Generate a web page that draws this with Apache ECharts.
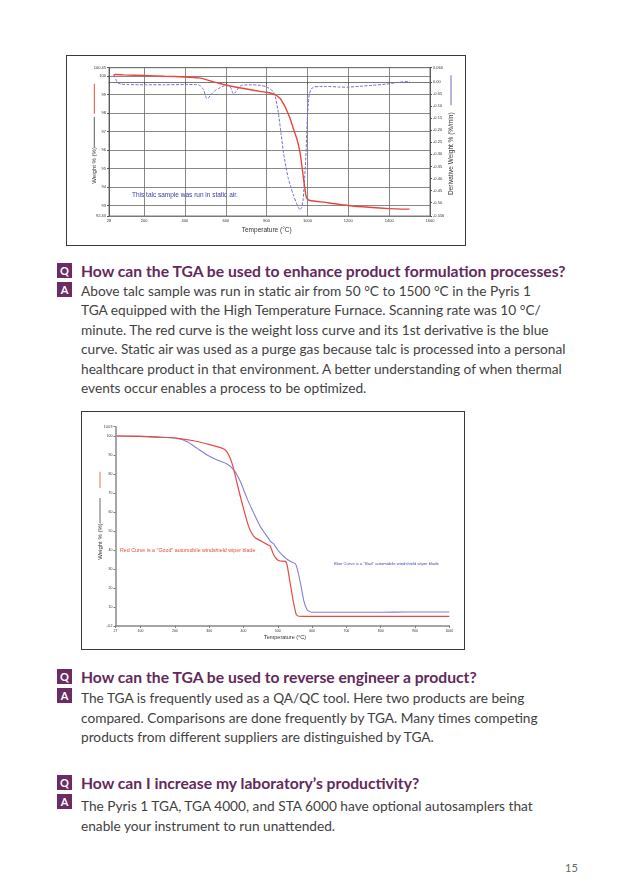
<!DOCTYPE html>
<html><head><meta charset="utf-8">
<script src="https://cdn.jsdelivr.net/npm/echarts@6/dist/echarts.min.js"></script>
<style>
body{margin:0;background:#fff;width:638px;height:896px;position:relative;overflow:hidden;font-family:Lato,"Open Sans",sans-serif;}
.frame{position:absolute;border:1px solid #3a3a3a;box-sizing:border-box;background:#fff;}
.chart{position:absolute;left:0;top:0;right:0;bottom:0;}
.box{position:absolute;left:57px;width:15px;height:15px;background:#6b2c64;color:#fff;font:bold 11px/15px Lato,sans-serif;text-align:center;}
.q{position:absolute;left:81px;color:#622a5c;font:bold 15.7px/18px Lato,sans-serif;white-space:nowrap;}
.a{position:absolute;left:81px;color:#3f3f3f;font:13.7px/19.5px Lato,sans-serif;white-space:nowrap;}
.pg{position:absolute;left:565px;top:861px;color:#666;font:11px/14px Lato,sans-serif;}
</style></head><body>

<div class="frame" style="left:66px;top:55px;width:400px;height:191px;"><div id="c1" class="chart"></div></div>

<div class="box" style="top:263px;">Q</div>
<div class="q" style="top:262px;">How can the TGA be used to enhance product formulation processes?</div>
<div class="box" style="top:282px;">A</div>
<div class="a" style="top:280.75px;">Above talc sample was run in static air from 50 °C to 1500 °C in the Pyris 1<br>TGA equipped with the High Temperature Furnace. Scanning rate was 10 °C/<br>minute. The red curve is the weight loss curve and its 1st derivative is the blue<br>curve. Static air was used as a purge gas because talc is processed into a personal<br>healthcare product in that environment. A better understanding of when thermal<br>events occur enables a process to be optimized.</div>

<div class="frame" style="left:81px;top:411px;width:384px;height:239px;"><div id="c2" class="chart"></div></div>

<div class="box" style="top:669px;">Q</div>
<div class="q" style="top:668px;">How can the TGA be used to reverse engineer a product?</div>
<div class="box" style="top:688px;">A</div>
<div class="a" style="top:688px;">The TGA is frequently used as a QA/QC tool. Here two products are being<br>compared. Comparisons are done frequently by TGA. Many times competing<br>products from different suppliers are distinguished by TGA.</div>

<div class="box" style="top:775px;">Q</div>
<div class="q" style="top:774px;">How can I increase my laboratory’s productivity?</div>
<div class="box" style="top:794px;">A</div>
<div class="a" style="top:796px;">The Pyris 1 TGA, TGA 4000, and STA 6000 have optional autosamplers that<br>enable your instrument to run unattended.</div>

<div class="pg">15</div>

<script>
// ---------- Chart 1: talc TGA (weight %) and derivative ----------
const talcTempTicks = [28, 200, 400, 600, 800, 1000, 1200, 1400, 1600];
const talcWeightTicks = [92.43, 93, 94, 95, 96, 97, 98, 99, 100, 100.45];
const talcDerivTicks = [-0.556, -0.5, -0.45, -0.4, -0.35, -0.3, -0.25, -0.2, -0.15, -0.1, -0.05, 0, 0.06];

const talcWeight = [
  [50,100.04],[60,100.08],[100,100.06],[200,100.03],[300,99.99],[400,99.95],[470,99.9],
  [500,99.82],[540,99.68],[580,99.57],[620,99.46],[694,99.31],[760,99.18],[800,99.12],
  [835,99.02],[865,98.8],[885,98.45],[898,98.15],[915,97.7],[931,97.15],[948,96.6],
  [963,95.9],[972,95.2],[980,94.5],[990,93.7],[996,93.4],[1005,93.3],[1012,93.27],
  [1100,93.15],[1200,93.0],[1300,92.9],[1400,92.83],[1500,92.8]
];
const talcDeriv = [
  [50,0.03],[55,0.025],[62,0.01],[70,-0.002],[85,-0.008],[120,-0.01],[200,-0.011],
  [300,-0.011],[400,-0.01],[457,-0.01],[475,-0.015],[490,-0.03],[500,-0.055],[506,-0.068],
  [515,-0.065],[530,-0.05],[548,-0.035],[563,-0.027],[590,-0.016],[612,-0.013],[625,-0.025],
  [637,-0.048],[650,-0.04],[665,-0.02],[678,-0.013],[720,-0.011],[767,-0.013],[800,-0.02],
  [833,-0.04],[845,-0.07],[857,-0.125],[870,-0.21],[882,-0.29],[894,-0.35],[906,-0.4],
  [920,-0.44],[931,-0.47],[945,-0.5],[955,-0.52],[963,-0.53],[972,-0.52],[979,-0.486],
  [986,-0.4],[993,-0.29],[999,-0.153],[1004,-0.09],[1009,-0.049],[1018,-0.03],[1028,-0.021],
  [1060,-0.018],[1094,-0.018],[1150,-0.02],[1192,-0.021],[1257,-0.017],[1320,-0.013],
  [1388,-0.008],[1453,0.0],[1502,0.004]
];

// ---------- Chart 2: wiper blades ----------
const wiperTempTicks = [27, 100, 200, 300, 400, 500, 600, 700, 800, 900, 1000];
const wiperWeightTicks = [-0.2, 10, 20, 30, 40, 50, 60, 70, 80, 90, 100, 104.9];

const goodBlade = [
  [30,100],[100,99.8],[150,99.4],[207,98.8],[255,97.5],[294,95.8],[333,93.9],[347,92.6],
  [357,90.0],[365,86.5],[372,82.2],[386,71.7],[401,61.2],[415,52.4],[425,48.5],[435,46.3],
  [454,44.5],[470,42.8],[478,42.0],[488,37.5],[498,35.0],[507,34.2],[522,34.0],[527,32.3],
  [536,22.7],[546,12.2],[554,6.0],[561,5.1],[600,5.0],[800,5.0],[1000,5.0]
];
const badBlade = [
  [30,100],[100,99.8],[150,99.4],[207,98.8],[236,97.0],[265,93.5],[294,90.0],[323,87.4],
  [352,85.3],[372,82.2],[391,76.0],[410,67.3],[430,59.4],[449,52.4],[469,47.1],[480,44.3],
  [488,43.2],[498,40.5],[507,38.4],[522,35.8],[536,34.0],[551,32.8],[556,30.6],[566,22.7],
  [575,13.9],[585,8.7],[595,7.4],[600,7.2],[800,7.2],[880,7.3],[1000,7.3]
];

const tickFont = {fontSize:4, color:'#333', fontFamily:'Liberation Sans'};
const plain = v => String(v);

const c1 = echarts.init(document.getElementById('c1'), null, {renderer:'canvas'});
c1.setOption({
  animation:false,
  grid:{left:42, right:35, top:11.7, bottom:29, show:true, borderColor:'#555', borderWidth:0.8},
  xAxis:{type:'value', min:28, max:1600, splitNumber:8,
    axisLine:{lineStyle:{color:'#555', width:0.8}},
    axisTick:{customValues:talcTempTicks, length:2, lineStyle:{color:'#555'}},
    axisLabel:Object.assign({customValues:talcTempTicks, margin:3, formatter:plain}, tickFont),
    splitLine:{show:true, lineStyle:{color:'#6a6a6a', width:0.8}}},
  yAxis:[
    {type:'value', min:92.43, max:100.45, splitNumber:8, position:'left',
     axisLine:{show:true, lineStyle:{color:'#555', width:0.8}},
     axisTick:{show:true, customValues:talcWeightTicks, length:2, lineStyle:{color:'#555'}},
     axisLabel:Object.assign({customValues:talcWeightTicks, margin:3, formatter:plain}, tickFont),
     splitLine:{show:true, lineStyle:{color:'#6a6a6a', width:0.8}}},
    {type:'value', min:-0.556, max:0.06, position:'right',
     axisLine:{show:true, lineStyle:{color:'#555', width:0.8}},
     axisTick:{show:true, customValues:talcDerivTicks, length:2, lineStyle:{color:'#555'}},
     axisLabel:Object.assign({customValues:talcDerivTicks, margin:3,
        formatter:v => (Math.abs(v*20 - Math.round(v*20)) < 1e-6 ? v.toFixed(2) : v.toFixed(3))}, tickFont),
     splitLine:{show:false}}
  ],
  series:[
    {type:'line', data:talcWeight, yAxisIndex:0, showSymbol:false, smooth:0.2, z:3,
     lineStyle:{color:'#e8463c', width:1.4}},
    {type:'line', data:talcDeriv, yAxisIndex:1, showSymbol:false, smooth:0.2, z:2,
     lineStyle:{color:'#6f6fd8', width:1, type:[3,1.5]}}
  ],
  graphic:[
    {type:'line', shape:{x1:27.3, y1:27.7, x2:27.3, y2:57.7}, style:{stroke:'#e8463c', lineWidth:1}},
    {type:'line', shape:{x1:27.3, y1:61, x2:27.3, y2:91}, style:{stroke:'#333', lineWidth:0.8}},
    {type:'text', x:27.3, y:109.4, rotation:Math.PI/2,
     style:{text:'Weight % (%)', fontSize:6, fill:'#333', align:'center', verticalAlign:'middle', fontFamily:'Liberation Sans'}},
    {type:'line', shape:{x1:384, y1:19.3, x2:384, y2:49.3}, style:{stroke:'#4a4aa8', lineWidth:0.8}},
    {type:'text', x:384, y:97.7, rotation:Math.PI/2,
     style:{text:'Derivative Weight % (%/min)', fontSize:6.5, fill:'#333', align:'center', verticalAlign:'middle', fontFamily:'Liberation Sans'}},
    {type:'text', x:199.7, y:174,
     style:{text:'Temperature (°C)', fontSize:6.5, fill:'#333', align:'center', verticalAlign:'middle', fontFamily:'Liberation Sans'}},
    {type:'text', x:65, y:139,
     style:{text:'This talc sample was run in static air.', fontSize:6.5, fill:'#3a3aa8', align:'left', verticalAlign:'middle', fontFamily:'Liberation Sans'}}
  ]
});

const c2 = echarts.init(document.getElementById('c2'), null, {renderer:'canvas'});
c2.setOption({
  animation:false,
  grid:{left:33.5, right:14.7, top:14.7, bottom:22.7},
  xAxis:{type:'value', min:27, max:1000, splitNumber:10,
    axisLine:{lineStyle:{color:'#888', width:1.5}},
    axisTick:{customValues:wiperTempTicks, length:2, lineStyle:{color:'#777'}},
    axisLabel:Object.assign({customValues:wiperTempTicks, margin:3, formatter:plain}, tickFont, {fontSize:3.5}),
    splitLine:{show:false}},
  yAxis:{type:'value', min:-0.2, max:104.9, splitNumber:10,
    axisLine:{show:true, lineStyle:{color:'#888', width:1.5}},
    axisTick:{show:true, customValues:wiperWeightTicks, length:2, lineStyle:{color:'#777'}},
    axisLabel:Object.assign({customValues:wiperWeightTicks, margin:3, formatter:plain}, tickFont, {fontSize:3.5}),
    splitLine:{show:false}},
  series:[
    {type:'line', data:badBlade, showSymbol:false, smooth:0.2, z:2,
     lineStyle:{color:'#8080d8', width:1.1}},
    {type:'line', data:goodBlade, showSymbol:false, smooth:0.2, z:3,
     lineStyle:{color:'#e84a3c', width:1.2}}
  ],
  graphic:[
    {type:'line', shape:{x1:18, y1:59.7, x2:18, y2:76}, style:{stroke:'#f07060', lineWidth:1}},
    {type:'line', shape:{x1:18, y1:86, x2:18, y2:111}, style:{stroke:'#444', lineWidth:0.8}},
    {type:'text', x:18, y:129.5, rotation:Math.PI/2,
     style:{text:'Weight % (%)', fontSize:6, fill:'#333', align:'center', verticalAlign:'middle', fontFamily:'Liberation Sans'}},
    {type:'text', x:203, y:225,
     style:{text:'Temperature (°C)', fontSize:5.5, fill:'#333', align:'center', verticalAlign:'middle', fontFamily:'Liberation Sans'}},
    {type:'text', x:38, y:138.7,
     style:{text:'Red Curve is a "Good" automobile windshield wiper blade', fontSize:5.3, fill:'#e84a3c', align:'left', verticalAlign:'middle', fontFamily:'Liberation Sans'}},
    {type:'text', x:252, y:152,
     style:{text:'Blue Curve is a "Bad" automobile windshield wiper blade', fontSize:4.2, fill:'#4a4ab0', align:'left', verticalAlign:'middle', fontFamily:'Liberation Sans'}}
  ]
});
</script>
</body></html>
